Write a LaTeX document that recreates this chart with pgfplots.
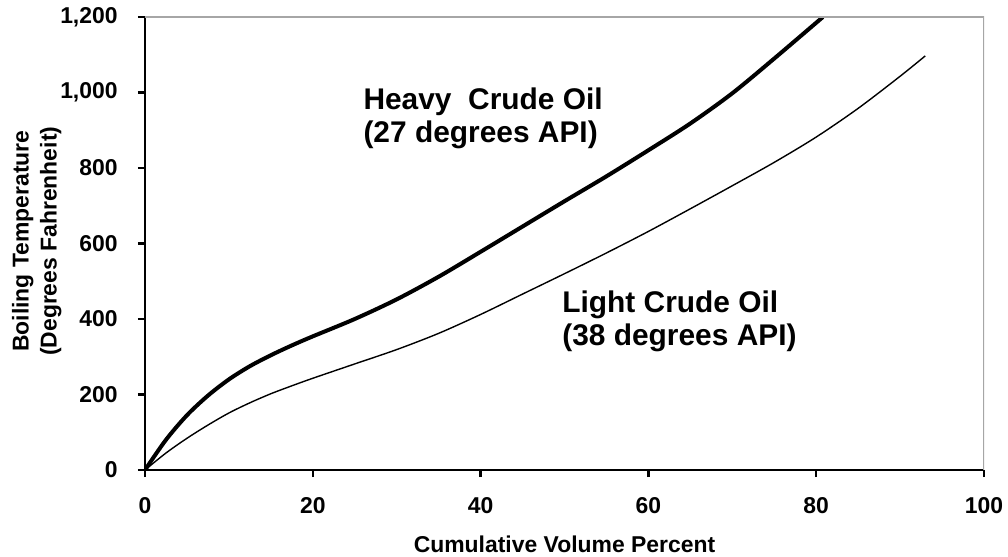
\documentclass[border=0pt]{standalone}
\usepackage{fontspec}
\setmainfont{Liberation Sans}
\usepackage{pgfplots}
\pgfplotsset{compat=1.18}
\begin{document}
\begin{tikzpicture}
\useasboundingbox (-72.5bp,-43.5bp) rectangle (431.5bp,235bp);
\begin{axis}[
  at={(0,0)}, anchor=south west,
  scale only axis, width=419.5bp, height=226.5bp,
  xmin=0, xmax=100, ymin=0, ymax=1200,
  xtick={0,20,...,100}, ytick={0,200,...,1200},
  axis x line*=bottom, axis y line*=left,
  axis line style={-, line width=1.2bp, black},
  tick align=outside, major tick length=3.5bp,
  tick style={line width=1.2bp, black},
  /pgf/number format/assume math mode=true,
  /pgf/number format/1000 sep={,},
  ticklabel style={font=\bfseries\fontsize{11.5}{13}\selectfont},
  yticklabel style={anchor=east, inner sep=0pt, xshift=-10bp},
  xticklabel style={anchor=base, inner sep=0pt, yshift=-18bp},
  xlabel={Cumulative Volume Percent},
  xlabel style={at={(axis description cs:0.5,-0.183)}, anchor=base, inner sep=0pt, font=\bfseries\fontsize{11.5}{14}\selectfont},
  ylabel={Boiling Temperature\\(Degrees Fahrenheit)},
  ylabel style={at={(axis description cs:-0.129,0.505)}, anchor=center, rotate=0, align=center, inner sep=0pt, font=\bfseries\fontsize{11.5}{14}\selectfont},
  clip=true,
]
\addplot[black, line width=2bp, smooth] coordinates {
(0,0) (2.5,80) (5,145) (7.5,197) (10,240) (12.5,275) (15,304) (17.5,330) (20,354) (25,400) (30,452) (35,512) (40,578) (45,645) (50,712) (55,778) (60,847) (65,918) (70,998) (75,1090) (80.8,1200)
};
\addplot[black, line width=0.7bp, smooth] coordinates {
(0,0) (2.5,45) (5,84) (7.5,119) (10,151) (12.5,178) (15,202) (17.5,223) (20,243) (25,281) (30,319) (35,362) (40,412) (45,466) (50,520) (55,575) (60,632) (65,692) (70,753) (75,815) (80,882) (85,958) (90,1043) (93,1097)
};
\draw[color=gray!70, line width=0.6bp] (rel axis cs:0,1) -- (rel axis cs:1,1) -- (rel axis cs:1,0);
\node[anchor=base west, inner sep=0pt, font=\bfseries\fontsize{15}{17}\selectfont] at (axis cs:26,956) {Heavy\ \ Crude Oil};
\node[anchor=base west, inner sep=0pt, font=\bfseries\fontsize{15}{17}\selectfont] at (axis cs:26,868) {(27 degrees API)};
\node[anchor=base west, inner sep=0pt, font=\bfseries\fontsize{15}{17}\selectfont] at (axis cs:49.7,418) {Light Crude Oil};
\node[anchor=base west, inner sep=0pt, font=\bfseries\fontsize{15}{17}\selectfont] at (axis cs:49.7,330) {(38 degrees API)};
\end{axis}
\end{tikzpicture}
\end{document}
